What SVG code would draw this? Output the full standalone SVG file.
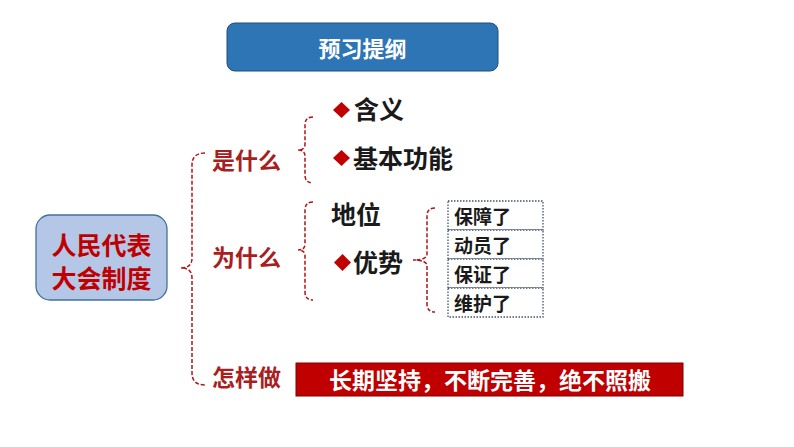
<svg xmlns="http://www.w3.org/2000/svg" width="794" height="447" viewBox="0 0 794 447">
<style>
.t{font-family:"Noto Sans CJK SC","Noto Sans",sans-serif;font-weight:bold;dominant-baseline:central}
.lbl{fill:#A81F1F;font-size:23px}
.item{fill:#1a1a1a;font-size:25px}
.sub{fill:#1a1a1a;font-size:19px}
.br{fill:none;stroke:#B0141A;stroke-width:1.5;stroke-dasharray:4 2}
.dot{fill:#ffffff;stroke:#44546A;stroke-width:1.3;stroke-dasharray:1.5 1.5}
.dia{fill:#C00000}
</style>
<rect width="794" height="447" fill="#ffffff"/>
<g id="title">
<rect x="227" y="23" width="271" height="48" rx="8" fill="#2E75B6" stroke="#1F4E79" stroke-width="1"/>
<text class="t" x="362.5" y="47" text-anchor="middle" fill="#ffffff" font-size="22">预习提纲</text>
</g>
<g id="root">
<rect x="36" y="215" width="131" height="85" rx="14" fill="#B4C7E7" stroke="#41719C" stroke-width="1.3"/>
<text class="t" x="101.5" y="244" text-anchor="middle" fill="#C00000" font-size="25">人民代表</text>
<text class="t" x="101.5" y="277" text-anchor="middle" fill="#C00000" font-size="25">大会制度</text>
</g>
<g id="connectors">
<path class="br" d="M205,153 Q192,153 192,165 L192,258 Q192,268 181,268 Q192,268 192,278 L192,373 Q192,385 205,385"/>
<path class="br" d="M313,117 Q305,117 305,125 L305,144 Q305,150 298,150 Q305,150 305,156 L305,175 Q305,183 313,183"/>
<path class="br" d="M313,202 Q305,202 305,210 L305,244 Q305,250 298,250 Q305,250 305,256 L305,292 Q305,300 313,300"/>
<path class="br" d="M435,208 Q427,208 427,216 L427,254 Q427,260 413,260 Q427,260 427,266 L427,304 Q427,312 435,312"/>
</g>
<g id="what">
<text class="t lbl" x="212" y="159">是什么</text>
</g>
<g id="why">
<text class="t lbl" x="212" y="256">为什么</text>
</g>
<g id="how">
<text class="t lbl" x="212" y="376">怎样做</text>
</g>
<g id="meaning">
<polygon class="dia" points="341.5,102 350,110 341.5,118 333,110"/>
<text class="t item" x="354" y="108">含义</text>
</g>
<g id="function">
<polygon class="dia" points="341.5,150 350,158 341.5,166 333,158"/>
<text class="t item" x="353" y="157">基本功能</text>
</g>
<g id="status">
<text class="t item" x="331" y="213">地位</text>
</g>
<g id="advantage">
<polygon class="dia" points="342.5,254 351,262.5 342.5,271 334,262.5"/>
<text class="t item" x="353" y="261">优势</text>
</g>
<g id="adv-items">
<rect class="dot" x="448" y="201" width="95" height="29"/>
<rect class="dot" x="448" y="230" width="95" height="29"/>
<rect class="dot" x="448" y="259" width="95" height="29"/>
<rect class="dot" x="448" y="288" width="95" height="29"/>
<text class="t sub" x="454" y="215">保障了</text>
<text class="t sub" x="454" y="244">动员了</text>
<text class="t sub" x="454" y="273">保证了</text>
<text class="t sub" x="454" y="302">维护了</text>
</g>
<g id="answer">
<rect x="296" y="363" width="387" height="33" fill="#C00000" stroke="#7F0000" stroke-width="1"/>
<text class="t" x="490" y="379" text-anchor="middle" fill="#ffffff" font-size="23">长期坚持，不断完善，绝不照搬</text>
</g>
</svg>
